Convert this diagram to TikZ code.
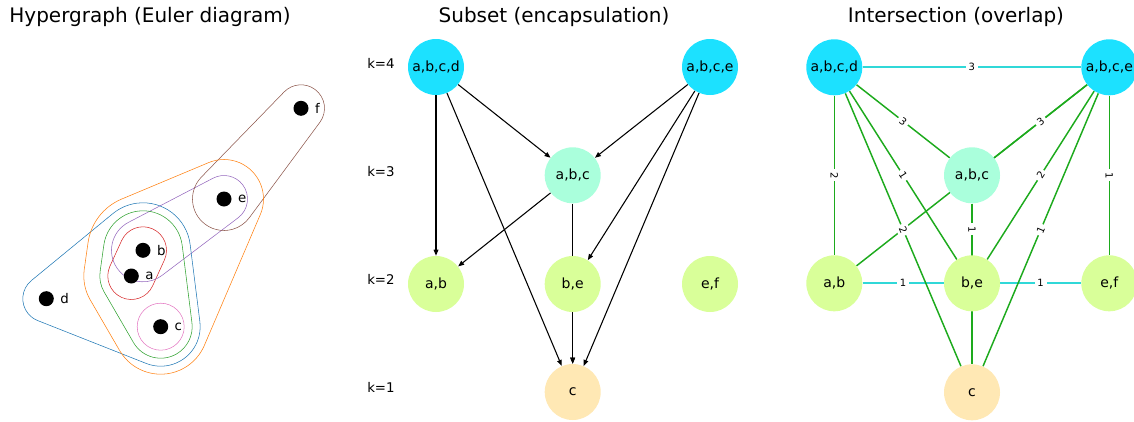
\documentclass[tikz,border=0pt]{standalone}
\usepackage{fontspec}
\setmainfont{DejaVu Sans}
\usetikzlibrary{arrows.meta, positioning, calc, backgrounds}
\definecolor{hblue}{HTML}{1F77B4}
\definecolor{horange}{HTML}{FF7F0E}
\definecolor{hgreen}{HTML}{2CA02C}
\definecolor{hred}{HTML}{D62728}
\definecolor{hpurple}{HTML}{9467BD}
\definecolor{hbrown}{HTML}{8C564B}
\definecolor{hpink}{HTML}{E377C2}
\definecolor{lvlfour}{HTML}{1CE1FF}
\definecolor{lvlthree}{HTML}{AAFFDC}
\definecolor{lvltwo}{HTML}{D9FF99}
\definecolor{lvlone}{HTML}{FFE8B4}
\definecolor{ovgreen}{HTML}{1DAA1D}
\definecolor{ovcyan}{HTML}{30D8D8}

% one arc of a rounded hull round the circle #3 (radius #4), with the
% tangents coming from #1 (radius #2) and going on to #5 (radius #6)
\newcommand{\hullpiece}[6]{%
  \draw let \p1=(#1), \p2=(#3), \p3=(#5),
    \n1={atan2(\y2-\y1,\x2-\x1)-acos(0.75*(#2-#4)/veclen(\x2-\x1,\y2-\y1))},
    \n2={atan2(\y3-\y2,\x3-\x2)-acos(0.75*(#4-#6)/veclen(\x3-\x2,\y3-\y2))},
    \n3={mod(\n2-\n1+720,360)}, \n4={0.75*#4}, \n5={0.75*#6}
  in ($(#3)+(\n1:\n4 pt)$) arc[start angle=\n1, delta angle=\n3, radius=\n4 pt]
     -- ($(#5)+(\n2:\n5 pt)$);}

\begin{document}
\begin{tikzpicture}[
  x=0.75pt, y=-0.75pt,
  every node/.style={font=\fontsize{10}{12}\selectfont},
  title/.style={font=\fontsize{15}{18}\selectfont},
  dot/.style={circle, fill=black, minimum size=11.25pt, inner sep=0pt},
  vtext/.style={inner sep=1pt},
  setnode/.style={circle, minimum size=42pt, inner sep=0pt,
                  font=\fontsize{10.5}{12}\selectfont},
  klabel/.style={anchor=west, inner sep=0pt},
  subarrow/.style={-{Triangle[length=4.5pt, width=3.5pt]}, line width=0.8pt},
  ovedge/.style={line width=1.1pt, draw=ovgreen},
  sameedge/.style={line width=1.5pt, draw=ovcyan},
  wlabel/.style={sloped, fill=white, inner sep=2pt, font=\fontsize{7.5}{9}\selectfont},
  hull/.style={line width=1.1pt, line cap=round}
]
\useasboundingbox (0,0) rectangle (1134,421);

\node[title] (t-euler) at (150,17) {Hypergraph (Euler diagram)};
\node[title] (t-subset) at (554,17) {Subset (encapsulation)};
\node[title] (t-overlap) at (956,17) {Intersection (overlap)};

% Euler diagram
\node[dot] (va) at (131.3,276) {};
\node[dot] (vb) at (143,250.3) {};
\node[dot] (vc) at (160.7,326.7) {};
\node[dot] (vd) at (46.3,298.7) {};
\node[dot] (ve) at (224,199) {};
\node[dot] (vf) at (301,108.3) {};
\node[vtext, right=3.5pt of va] (la) {a};
\node[vtext, right=3.5pt of vb] (lb) {b};
\node[vtext, right=3.5pt of vc] (lc) {c};
\node[vtext, right=3.5pt of vd] (ld) {d};
\node[vtext, right=3.5pt of ve] (le) {e};
\node[vtext, right=3.5pt of vf] (lf) {f};

\begin{scope}[on background layer, hull]
  \draw[color=hpink] (vc) circle[radius=23.5];
  \begin{scope}[color=hred]
    \hullpiece{vb}{23.5}{va}{23.5}{vb}{23.5}
    \hullpiece{va}{23.5}{vb}{23.5}{va}{23.5}
  \end{scope}
  \begin{scope}[color=hpurple]
    \hullpiece{ve}{23.5}{vb}{31.5}{ve}{23.5}
    \hullpiece{vb}{31.5}{ve}{23.5}{vb}{31.5}
  \end{scope}
  \begin{scope}[color=hbrown]
    \hullpiece{vf}{23.5}{ve}{31.5}{vf}{23.5}
    \hullpiece{ve}{31.5}{vf}{23.5}{ve}{31.5}
  \end{scope}
  \begin{scope}[color=hgreen]
    \hullpiece{vc}{31.5}{vb}{39.5}{va}{31.5}
    \hullpiece{vb}{39.5}{va}{31.5}{vc}{31.5}
    \hullpiece{va}{31.5}{vc}{31.5}{vb}{39.5}
  \end{scope}
  \begin{scope}[color=hblue]
    \hullpiece{vc}{39.5}{vb}{47.5}{vd}{23.5}
    \hullpiece{vb}{47.5}{vd}{23.5}{vc}{39.5}
    \hullpiece{vd}{23.5}{vc}{39.5}{vb}{47.5}
  \end{scope}
  \begin{scope}[color=horange]
    \hullpiece{vc}{47.5}{ve}{39.5}{vb}{55.5}
    \hullpiece{ve}{39.5}{vb}{55.5}{va}{47.5}
    \hullpiece{vb}{55.5}{va}{47.5}{vc}{47.5}
    \hullpiece{va}{47.5}{vc}{47.5}{ve}{39.5}
  \end{scope}
\end{scope}

% subset graph
\node[klabel] (k4) at (367,63.5) {k=4};
\node[klabel] (k3) at (367,171.5) {k=3};
\node[klabel] (k2) at (367,279.5) {k=2};
\node[klabel] (k1) at (367,387.5) {k=1};

\node[setnode, fill=lvlfour] (s-abcd) at (436,67) {a,b,c,d};
\node[setnode, fill=lvlfour] (s-abce) at (710,67) {a,b,c,e};
\node[setnode, fill=lvlthree] (s-abc) at (572.7,175.3) {a,b,c};
\node[setnode, fill=lvltwo] (s-ab) at (436,284) {a,b};
\node[setnode, fill=lvltwo] (s-be) at (572.7,284) {b,e};
\node[setnode, fill=lvltwo] (s-ef) at (710,284) {e,f};
\node[setnode, fill=lvlone] (s-c) at (572.7,392) {c};

\begin{scope}[on background layer]
  \draw[subarrow] (s-abcd) -- (s-ab);
  \draw[subarrow] (s-abcd) -- (s-abc);
  \draw[subarrow] (s-abcd) -- (s-c);
  \draw[subarrow] (s-abce) -- (s-abc);
  \draw[subarrow] (s-abce) -- (s-be);
  \draw[subarrow] (s-abce) -- (s-c);
  \draw[subarrow] (s-abc) -- (s-ab);
  \draw[subarrow] (s-abc) -- (s-c);
  \draw[subarrow] (s-be) -- (s-c);
\end{scope}

% intersection graph
\node[setnode, fill=lvlfour] (i-abcd) at (834.3,67.3) {a,b,c,d};
\node[setnode, fill=lvlfour] (i-abce) at (1109.3,67.3) {a,b,c,e};
\node[setnode, fill=lvlthree] (i-abc) at (972,175.3) {a,b,c};
\node[setnode, fill=lvltwo] (i-ab) at (834.3,283.3) {a,b};
\node[setnode, fill=lvltwo] (i-be) at (972,283.3) {b,e};
\node[setnode, fill=lvltwo] (i-ef) at (1109.3,283.3) {e,f};
\node[setnode, fill=lvlone] (i-c) at (972,392.3) {c};

\begin{scope}[on background layer]
  \draw[sameedge] (i-abcd) -- (i-abce);
  \draw[sameedge] (i-ab) -- (i-be);
  \draw[sameedge] (i-be) -- (i-ef);
  \draw[ovedge] (i-abcd) -- (i-abc);
  \draw[ovedge] (i-abcd) -- (i-ab);
  \draw[ovedge] (i-abcd) -- (i-be);
  \draw[ovedge] (i-abcd) -- (i-c);
  \draw[ovedge] (i-abce) -- (i-abc);
  \draw[ovedge] (i-abce) -- (i-be);
  \draw[ovedge] (i-abce) -- (i-c);
  \draw[ovedge] (i-abce) -- (i-ef);
  \draw[ovedge] (i-abce) -- (i-ab);
  \draw[ovedge] (i-abc) -- (i-be);
  \draw[ovedge] (i-abc) -- (i-c);
  % weights
  \path (i-abcd) -- node[wlabel] (w1) {3} (i-abce);
  \path (i-ab) -- node[wlabel] (w2) {1} (i-be);
  \path (i-be) -- node[wlabel] (w3) {1} (i-ef);
  \path (i-abcd) -- node[wlabel] (w4) {3} (i-abc);
  \path (i-abcd) -- node[wlabel] (w5) {2} (i-ab);
  \path (i-abcd) -- node[wlabel] (w6) {1} (i-be);
  \path (i-abcd) -- node[wlabel] (w7) {2} (i-c);
  \path (i-abce) -- node[wlabel] (w8) {3} (i-abc);
  \path (i-abce) -- node[wlabel] (w9) {2} (i-be);
  \path (i-abce) -- node[wlabel] (w10) {1} (i-c);
  \path (i-abce) -- node[wlabel] (w11) {1} (i-ef);
  \path (i-abc) -- node[wlabel] (w12) {1} (i-be);
\end{scope}

\end{tikzpicture}
\end{document}
